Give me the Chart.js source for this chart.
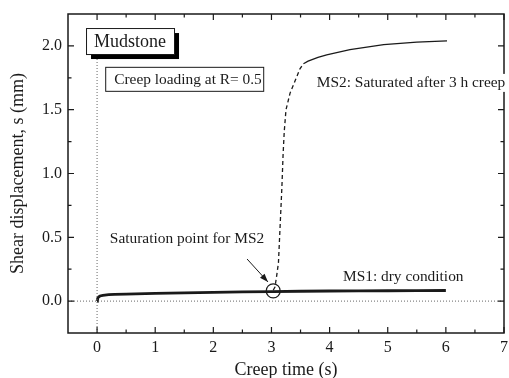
<!DOCTYPE html>
<html>
<head>
<meta charset="utf-8">
<script src="https://cdn.jsdelivr.net/npm/chart.js@4/dist/chart.umd.min.js"></script>
<style>
  body { margin: 0; background: #fff; }
  canvas { display: block; }
</style>
</head>
<body>
<canvas id="chart" width="509" height="378"></canvas>
<script>
'use strict';
// data
var xTicks = [0, 1, 2, 3, 4, 5, 6, 7];
var yTicks = [0, 0.5, 1.0, 1.5, 2.0];

// MS1: dry condition
var ms1Time = [0, 0.01, 0.02, 0.05, 0.1, 0.2, 0.3, 0.5, 1, 1.5, 2, 2.5, 3, 3.5, 4, 4.5, 5, 5.5, 6];
var ms1Disp = [0, 0.02, 0.03, 0.04, 0.045, 0.05, 0.052, 0.055, 0.06, 0.065, 0.069, 0.072, 0.075, 0.077, 0.079, 0.08, 0.081, 0.082, 0.083];

// MS2: saturated after 3 h creep
var ms2Time = [3.03, 3.06, 3.09, 3.12, 3.14, 3.16, 3.18, 3.2, 3.22, 3.25, 3.32, 3.41, 3.49, 3.55, 3.63, 3.8, 3.95, 4.35, 4.93, 5.5, 6.02];
var ms2Disp = [0.085, 0.11, 0.2, 0.3, 0.5, 0.7, 0.9, 1.15, 1.33, 1.5, 1.63, 1.73, 1.82, 1.86, 1.88, 1.91, 1.93, 1.97, 2.01, 2.03, 2.04];

var satPoint = [3.03, 0.08];

var FONT = '"Liberation Serif", "Times New Roman", serif';
var INK = '#1a1a1a';

function toPoints(xs, ys) {
    var pts = [];
    for (var i = 0; i < xs.length; i++) {
        pts.push({ x: xs[i], y: ys[i] });
    }
    return pts;
}

// frame, inward ticks and the text boxes
var decorations = {
    id: 'decorations',
    afterDatasetsDraw: function (chart) {
        var c = chart.ctx;
        var a = chart.chartArea;
        var sx = chart.scales.x;
        var sy = chart.scales.y;
        c.save();
        c.strokeStyle = INK;
        c.lineWidth = 1.5;
        c.strokeRect(a.left, a.top, a.right - a.left, a.bottom - a.top);

        c.lineWidth = 1.2;
        c.beginPath();
        for (var i = 0; i < xTicks.length; i++) {
            var xp = sx.getPixelForValue(xTicks[i]);
            c.moveTo(xp, a.bottom); c.lineTo(xp, a.bottom - 6);
            c.moveTo(xp, a.top); c.lineTo(xp, a.top + 6);
            var xm = sx.getPixelForValue(xTicks[i] + 0.5);
            if (xm < a.right - 1) {
                c.moveTo(xm, a.bottom); c.lineTo(xm, a.bottom - 3.5);
                c.moveTo(xm, a.top); c.lineTo(xm, a.top + 3.5);
            }
        }
        for (var j = 0; j < yTicks.length; j++) {
            var yp = sy.getPixelForValue(yTicks[j]);
            c.moveTo(a.left, yp); c.lineTo(a.left + 6, yp);
            c.moveTo(a.right, yp); c.lineTo(a.right - 6, yp);
            var ym = sy.getPixelForValue(yTicks[j] + 0.25);
            if (ym > a.top + 1) {
                c.moveTo(a.left, ym); c.lineTo(a.left + 3.5, ym);
                c.moveTo(a.right, ym); c.lineTo(a.right - 3.5, ym);
            }
        }
        c.stroke();

        // Mudstone box with shadow
        var bx = sx.getPixelForValue(-0.19), by = sy.getPixelForValue(2.14);
        c.fillStyle = '#000';
        c.fillRect(bx + 5, by + 5, 88, 26);
        c.fillStyle = '#fff';
        c.fillRect(bx, by, 88, 26);
        c.lineWidth = 1;
        c.strokeRect(bx + 0.5, by + 0.5, 88, 26);
        c.fillStyle = INK;
        c.font = '18px ' + FONT;
        c.textBaseline = 'middle';
        c.textAlign = 'center';
        c.fillText('Mudstone', bx + 44, by + 14);

        // loading box
        var lx = sx.getPixelForValue(0.14), ly = sy.getPixelForValue(1.836);
        c.fillStyle = '#fff';
        c.fillRect(lx, ly, 158, 24);
        c.strokeRect(lx + 0.5, ly + 0.5, 158, 24);
        c.fillStyle = INK;
        c.font = '15.4px ' + FONT;
        c.textAlign = 'left';
        c.fillText('Creep loading at R= 0.5', lx + 9, ly + 13);

        // MS2 label over the right axis
        var t2 = 'MS2: Saturated after 3 h creep';
        var mx = sx.getPixelForValue(3.78), my = sy.getPixelForValue(1.71);
        var w2 = c.measureText(t2).width;
        c.fillStyle = '#fff';
        c.fillRect(mx - 1, my - 9, w2 + 2, 18);
        c.fillStyle = INK;
        c.fillText(t2, mx, my);

        c.fillText('Saturation point for MS2', sx.getPixelForValue(0.22), sy.getPixelForValue(0.49));
        c.fillText('MS1: dry condition', sx.getPixelForValue(4.23), sy.getPixelForValue(0.19));

        // arrow to the saturation point
        var ax0 = sx.getPixelForValue(2.58), ay0 = sy.getPixelForValue(0.33);
        var ax1 = sx.getPixelForValue(2.94), ay1 = sy.getPixelForValue(0.15);
        var ang = Math.atan2(ay1 - ay0, ax1 - ax0);
        c.strokeStyle = INK;
        c.lineWidth = 1;
        c.beginPath();
        c.moveTo(ax0, ay0); c.lineTo(ax1, ay1);
        c.stroke();
        c.fillStyle = INK;
        c.beginPath();
        c.moveTo(ax1, ay1);
        c.lineTo(ax1 - 9 * Math.cos(ang - 0.35), ay1 - 9 * Math.sin(ang - 0.35));
        c.lineTo(ax1 - 9 * Math.cos(ang + 0.35), ay1 - 9 * Math.sin(ang + 0.35));
        c.closePath();
        c.fill();
        c.restore();
    }
};

new Chart(document.getElementById('chart').getContext('2d'), {
    type: 'scatter',
    data: {
        datasets: [{
            // y = 0 reference
            data: [{ x: -0.5, y: 0 }, { x: 7, y: 0 }],
            showLine: true, borderColor: '#666', borderWidth: 1, borderDash: [1, 2], pointRadius: 0
        }, {
            // t = 0 reference
            data: [{ x: 0, y: -0.25 }, { x: 0, y: 1.9 }],
            showLine: true, borderColor: '#666', borderWidth: 1, borderDash: [1, 2], pointRadius: 0
        }, {
            label: 'MS1: dry condition',
            data: toPoints(ms1Time, ms1Disp),
            showLine: true, borderColor: INK, borderWidth: 2.8, pointRadius: 0
        }, {
            label: 'MS2: Saturated after 3 h creep',
            data: toPoints(ms2Time, ms2Disp),
            showLine: true, borderColor: INK, borderWidth: 1.3, pointRadius: 0,
            segment: {
                borderDash: function (ctx) { return ctx.p0.parsed.x < 3.5 ? [4, 3] : undefined; }
            }
        }, {
            label: 'Saturation point for MS2',
            data: [{ x: satPoint[0], y: satPoint[1] }],
            pointRadius: 7, pointBackgroundColor: '#fff', pointBorderColor: INK, pointBorderWidth: 1.2
        }]
    },
    options: {
        responsive: false,
        animation: false,
        layout: { autoPadding: false, padding: { top: 14, right: 5, left: 0, bottom: 0 } },
        plugins: { legend: { display: false }, tooltip: { enabled: false } },
        scales: {
            x: {
                type: 'linear', min: -0.5, max: 7,
                afterBuildTicks: function (s) { s.ticks = xTicks.map(function (v) { return { value: v }; }); },
                afterFit: function (s) { s.height = 45; },
                grid: { display: false, drawTicks: false }, border: { display: false },
                ticks: { color: INK, padding: 0, font: { family: FONT, size: 16, lineHeight: 1.8 }, callback: function (v) { return String(v); } },
                title: { display: true, text: 'Creep time (s)', color: INK, padding: { top: 0, bottom: -1 }, font: { family: FONT, size: 18, lineHeight: 1 } }
            },
            y: {
                type: 'linear', min: -0.25, max: 2.25,
                afterBuildTicks: function (s) { s.ticks = yTicks.map(function (v) { return { value: v }; }); },
                afterFit: function (s) { s.width = 68; },
                grid: { display: false, drawTicks: false }, border: { display: false },
                ticks: { color: INK, padding: 6, font: { family: FONT, size: 16, lineHeight: 1 }, callback: function (v) { return v.toFixed(1); } },
                title: { display: true, text: 'Shear displacement, s (mm)', color: INK, padding: { top: 9, bottom: 0 }, font: { family: FONT, size: 18, lineHeight: 1 } }
            }
        }
    },
    plugins: [decorations]
});
</script>
</body>
</html>
